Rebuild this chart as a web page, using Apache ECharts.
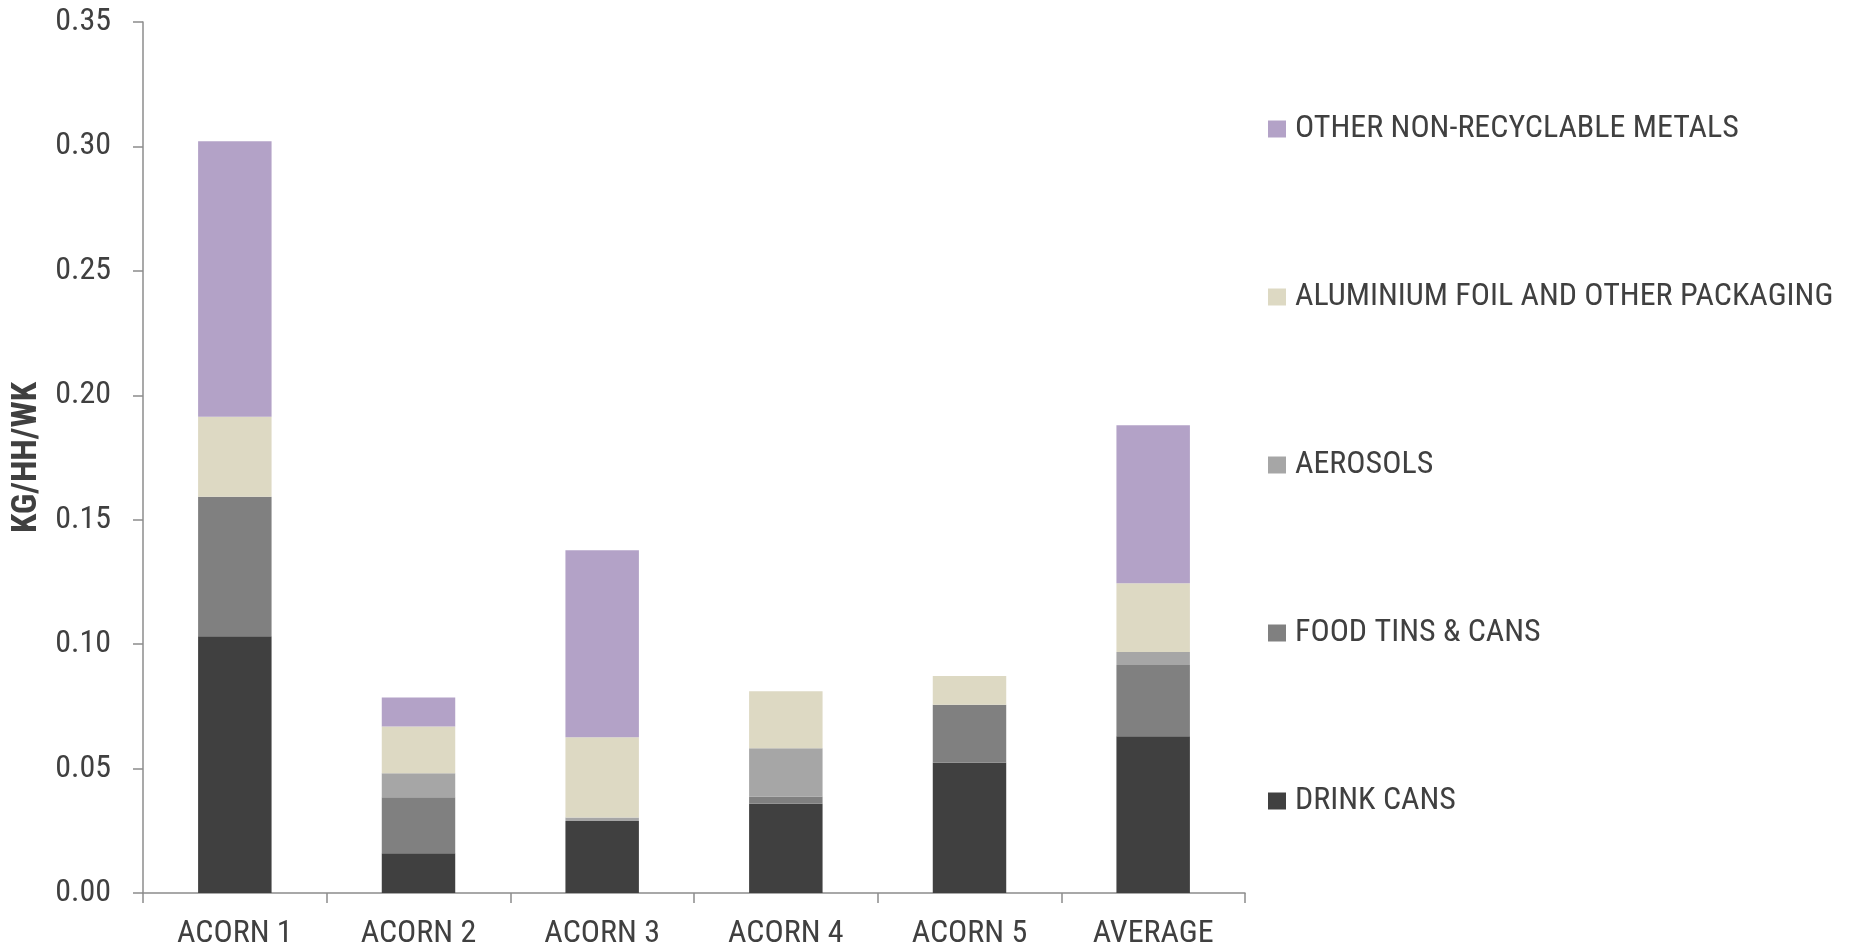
<!DOCTYPE html>
<html>
<head>
<meta charset="utf-8">
<script src="https://cdn.jsdelivr.net/npm/echarts@6/dist/echarts.min.js"></script>
<style>
  html, body { margin: 0; padding: 0; background: #ffffff; }
  #chart { width: 1868px; height: 951px; }
</style>
</head>
<body>
<div id="chart"></div>
<script>
// Metal waste composition by ACORN group, kg per household per week
const categories = ['ACORN 1', 'ACORN 2', 'ACORN 3', 'ACORN 4', 'ACORN 5', 'AVERAGE'];

const drinkCans   = [0.1032, 0.0160, 0.0289, 0.0359, 0.0523, 0.0630];
const foodTins    = [0.0560, 0.0225, 0.0000, 0.0029, 0.0233, 0.0286];
const aerosols    = [0.0000, 0.0096, 0.0014, 0.0194, 0.0000, 0.0052];
const foilPack    = [0.0322, 0.0188, 0.0323, 0.0229, 0.0116, 0.0277];
const otherMetals = [0.1107, 0.0117, 0.0751, 0.0000, 0.0000, 0.0635];

const yTicks = ['0.00', '0.05', '0.10', '0.15', '0.20', '0.25', '0.30', '0.35'];

const seriesDefs = [
  { name: 'DRINK CANS', data: drinkCans, color: '#404040' },
  { name: 'FOOD TINS & CANS', data: foodTins, color: '#808080' },
  { name: 'AEROSOLS', data: aerosols, color: '#a6a6a6' },
  { name: 'ALUMINIUM FOIL AND OTHER PACKAGING', data: foilPack, color: '#ddd9c3' },
  { name: 'OTHER NON-RECYCLABLE METALS', data: otherMetals, color: '#b3a2c7' }
];

const FONT = '"Roboto Condensed", "Liberation Sans Narrow", "Arial Narrow", sans-serif';
const AXIS_COLOR = '#8c8c8c';
const TEXT_COLOR = '#404040';

const chart = echarts.init(document.getElementById('chart'), null, { renderer: 'canvas' });

chart.setOption({
  animation: false,
  backgroundColor: '#ffffff',
  grid: { left: 143, right: 623, top: 22, bottom: 58, containLabel: false },
  legend: {
    orient: 'vertical',
    left: 1263,
    top: 108,
    itemWidth: 18,
    itemHeight: 17,
    itemGap: 136,
    icon: 'rect',
    data: seriesDefs.map(s => s.name).reverse(),
    textStyle: {
      fontFamily: FONT,
      fontSize: 32,
      color: TEXT_COLOR,
      lineHeight: 32,
      padding: [0, 0, 0, 4]
    }
  },
  xAxis: {
    type: 'category',
    data: categories,
    boundaryGap: true,
    axisLine: { show: true, lineStyle: { color: AXIS_COLOR, width: 1.5 } },
    axisTick: { show: true, length: 10, inside: false, alignWithLabel: false, lineStyle: { color: AXIS_COLOR, width: 1.5 } },
    axisLabel: { interval: 0, fontFamily: FONT, fontSize: 32, color: TEXT_COLOR, margin: 25 },
    splitLine: { show: false }
  },
  yAxis: {
    type: 'value',
    min: 0,
    max: 0.35,
    interval: 0.05,
    name: 'KG/HH/WK',
    nameLocation: 'middle',
    nameGap: 92,
    nameRotate: 90,
    nameTextStyle: { fontFamily: FONT, fontSize: 35, fontWeight: 'bold', color: TEXT_COLOR },
    axisLine: { show: true, lineStyle: { color: AXIS_COLOR, width: 1.5 } },
    axisTick: { show: true, length: 10, inside: false, lineStyle: { color: AXIS_COLOR, width: 1.5 } },
    axisLabel: {
      fontFamily: FONT,
      fontSize: 32,
      color: TEXT_COLOR,
      margin: 32,
      formatter: v => yTicks[Math.round(v / 0.05)]
    },
    splitLine: { show: false }
  },
  series: seriesDefs.map(s => ({
    name: s.name,
    type: 'bar',
    stack: 'metals',
    barWidth: '40%',
    data: s.data,
    itemStyle: { color: s.color },
    emphasis: { disabled: true }
  }))
});
</script>
</body>
</html>
